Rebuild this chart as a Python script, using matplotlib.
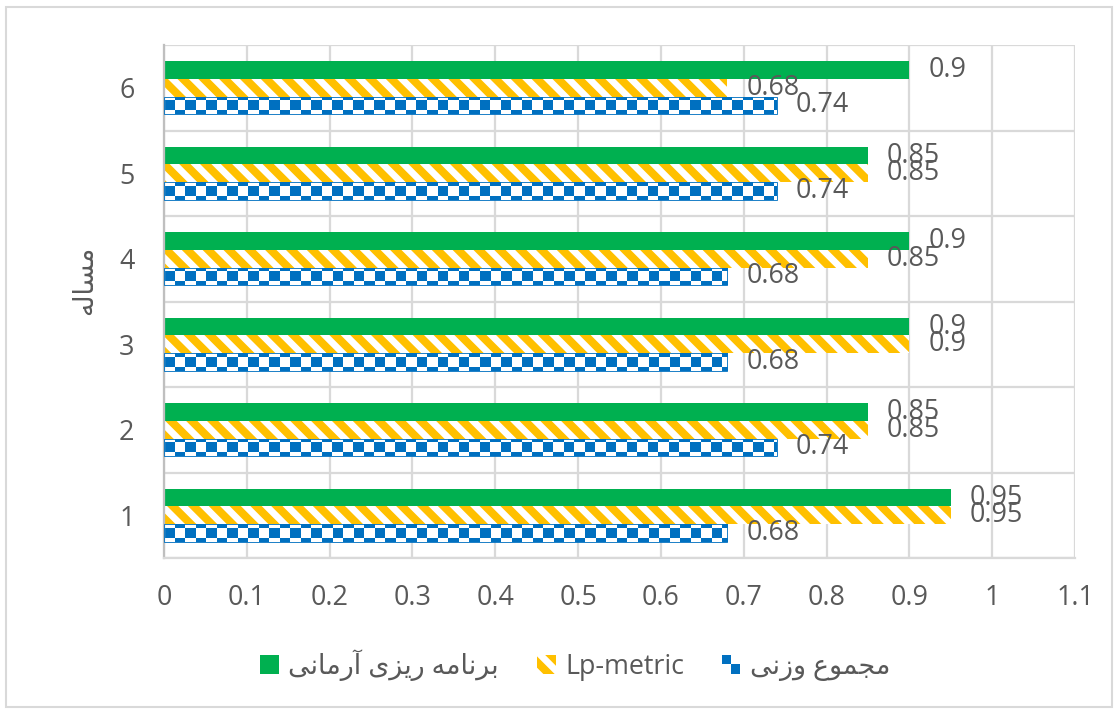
import numpy as np
import matplotlib
matplotlib.use("Agg")
import matplotlib.pyplot as plt
from matplotlib.patches import Patch, Rectangle
from matplotlib.colors import ListedColormap
from matplotlib.legend_handler import HandlerBase

# data
problems = [1, 2, 3, 4, 5, 6]
weighted_sum = [0.68, 0.74, 0.68, 0.68, 0.74, 0.74]     # مجموع وزنی
lp_metric = [0.95, 0.85, 0.9, 0.85, 0.85, 0.68]         # Lp-metric
goal_prog = [0.95, 0.85, 0.9, 0.9, 0.85, 0.9]           # برنامه ریزی آرمانی
x_ticks = [0, 0.1, 0.2, 0.3, 0.4, 0.5, 0.6, 0.7, 0.8, 0.9, 1, 1.1]

label_ws = 'مجموع وزنی'
label_lp = 'Lp-metric'
label_gp = 'برنامه ریزی آرمانی'
label_y = 'مساله'

# matplotlib has no arabic shaping -> pick presentation forms by hand
DUAL = set('بجسعلمنهی')
FORMS = {
    'ا': ('\ufe8d', '\ufe8e'), 'آ': ('\ufe81', '\ufe82'),
    'ر': ('\ufead', '\ufeae'), 'ز': ('\ufeaf', '\ufeb0'),
    'و': ('\ufeed', '\ufeee'),
    'ب': ('\ufe8f', '\ufe90', '\ufe91', '\ufe92'),
    'ج': ('\ufe9d', '\ufe9e', '\ufe9f', '\ufea0'),
    'س': ('\ufeb1', '\ufeb2', '\ufeb3', '\ufeb4'),
    'ع': ('\ufec9', '\ufeca', '\ufecb', '\ufecc'),
    'ل': ('\ufedd', '\ufede', '\ufedf', '\ufee0'),
    'م': ('\ufee1', '\ufee2', '\ufee3', '\ufee4'),
    'ن': ('\ufee5', '\ufee6', '\ufee7', '\ufee8'),
    'ه': ('\ufee9', '\ufeea', '\ufeeb', '\ufeec'),
    'ی': ('\ufeef', '\ufef0', '\ufef3', '\ufef4'),
}


def fa(text):
    out = []
    for i, ch in enumerate(text):
        if ch not in FORMS:
            out.append(ch)
            continue
        prev = text[i - 1] if i > 0 else ''
        nxt = text[i + 1] if i + 1 < len(text) else ''
        jp = prev in DUAL
        jn = ch in DUAL and nxt in FORMS
        f = FORMS[ch]
        if jp and jn:
            out.append(f[3])
        elif jp:
            out.append(f[1])
        elif jn:
            out.append(f[2])
        else:
            out.append(f[0])
    return ''.join(out[::-1])


GREEN = '#00B050'
YELLOW = '#FFC000'
BLUE = '#0070C0'
TXT = '#595959'
GRID = '#d9d9d9'

DPI = 125
plt.rcParams['font.family'] = ['Open Sans', 'DejaVu Sans']
plt.rcParams['hatch.linewidth'] = 4.6
FS = 15.5

fig = plt.figure(figsize=(1119 / DPI, 713 / DPI), dpi=DPI)
ax = fig.add_axes([164 / 1119, 1 - 558 / 713, (1075 - 164) / 1119, (558 - 45) / 713])

y = np.array(problems, dtype=float)
h = 0.205

b_ws = ax.barh(y - h, weighted_sum, height=h, facecolor='none', edgecolor=BLUE,
               linewidth=0.5, zorder=3)
b_lp = ax.barh(y, lp_metric, height=h, facecolor='white', edgecolor=YELLOW,
               hatch='\\\\', linewidth=0, zorder=2)
b_gp = ax.barh(y + h, goal_prog, height=h, color=GREEN, linewidth=0, zorder=2)

# checkerboard fill for the weighted-sum bars, clipped to each bar
cmap = ListedColormap(['white', BLUE])
cx, cy = 0.0127, 0.117
for rect in b_ws:
    x0, y0 = rect.get_x(), rect.get_y()
    w = rect.get_width()
    nc = int(np.ceil(w / cx)) + 1
    board = (np.indices((3, nc)).sum(axis=0) % 2)
    im = ax.imshow(board, cmap=cmap, origin='lower', aspect='auto',
                   interpolation='nearest', zorder=2,
                   extent=(x0, x0 + nc * cx, y0 - 0.07, y0 - 0.07 + 3 * cy))
    im.set_clip_path(rect)

# value labels
for bars, vals in [(b_ws, weighted_sum), (b_lp, lp_metric), (b_gp, goal_prog)]:
    for rect, v in zip(bars, vals):
        ax.annotate(f'{v:g}', (rect.get_width(), rect.get_y() + rect.get_height() / 2),
                    xytext=(11, 0), textcoords='offset points', va='center', ha='left',
                    fontsize=FS, color=TXT)

ax.set_xlim(0, 1.1)
ax.set_ylim(0.5, 6.5)
ax.set_xticks(x_ticks)
ax.set_xticklabels([f'{t:g}' for t in x_ticks])
ax.set_yticks(problems)
ax.set_yticks(np.arange(0.5, 7, 1), minor=True)
ax.tick_params(axis='both', which='both', length=0, labelsize=FS, labelcolor=TXT)
ax.tick_params(axis='x', pad=15)
ax.tick_params(axis='y', pad=17)
ax.grid(axis='x', which='major', color=GRID, linewidth=1.3)
ax.grid(axis='y', which='minor', color=GRID, linewidth=1.3)
ax.set_axisbelow(True)
for s in ['top', 'right']:
    ax.spines[s].set_visible(False)
ax.spines['left'].set_color('#bfbfbf')
ax.spines['left'].set_linewidth(1.3)
ax.spines['bottom'].set_color(GRID)
ax.spines['bottom'].set_linewidth(1.3)

fig.text(85 / 1119, 1 - 280 / 713, fa(label_y), rotation=90, ha='center', va='center',
         fontsize=FS, color=TXT)


class HandlerChecker(HandlerBase):
    def create_artists(self, legend, orig_handle, xdescent, ydescent, width, height,
                       fontsize, trans):
        s = height / 2
        x0, y0 = -xdescent, -ydescent
        arts = []
        for i in range(2):
            for j in range(2):
                c = BLUE if (i + j) % 2 == 0 else 'white'
                arts.append(Rectangle((x0 + j * s, y0 + (1 - i) * s), s, s,
                                      facecolor=c, linewidth=0, transform=trans))
        return arts


h_gp = Patch(facecolor=GREEN, linewidth=0)
h_lp = Patch(facecolor='white', edgecolor=YELLOW, hatch='\\\\', linewidth=0)
h_ws = Patch(facecolor=BLUE)
leg = fig.legend([h_gp, h_lp, h_ws], [fa(label_gp), label_lp, fa(label_ws)],
                 loc='center', bbox_to_anchor=(0.514, 1 - 665 / 713), ncol=3,
                 frameon=False, fontsize=FS, handlelength=0.7, handleheight=0.7,
                 handletextpad=0.35, columnspacing=1.4,
                 handler_map={h_ws: HandlerChecker()})
for t in leg.get_texts():
    t.set_color(TXT)

# chart border
fig.add_artist(Rectangle((6 / 1119, 6 / 713), 1106 / 1119, 700 / 713,
                         transform=fig.transFigure, fill=False,
                         edgecolor=GRID, linewidth=1.2))

fig.savefig('out.png', dpi=DPI)
